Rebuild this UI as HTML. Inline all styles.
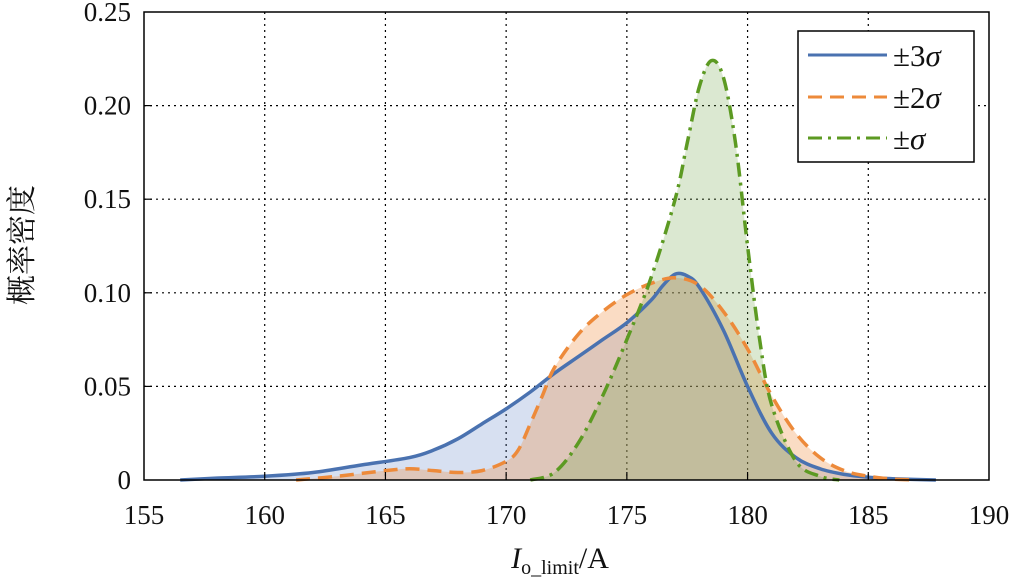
<!DOCTYPE html>
<html><head><meta charset="utf-8"><style>
body{margin:0;background:#fff}
svg text{font-family:"Liberation Serif","Noto Serif CJK SC",serif;fill:#111}
</style></head><body>
<svg width="1012" height="582" xmlns="http://www.w3.org/2000/svg">
<g id="grid"></g>
<g id="fills"></g>
<g id="lines"></g>
<rect x="144" y="12" width="845" height="468" fill="none" stroke="#000" stroke-width="1.5"/>
<g id="ticks"></g>
<text x="560" y="568" text-anchor="middle" font-size="30"><tspan font-style="italic">I</tspan><tspan font-size="20" dy="6">o_limit</tspan><tspan dy="-6">/A</tspan></text>
<text transform="translate(32,245) rotate(-90)" text-anchor="middle" font-size="30">概率密度</text>
<g>
<rect x="798" y="31" width="176" height="131" fill="#fff" stroke="#000" stroke-width="1.5"/>
<line x1="808" y1="55" x2="887" y2="55" stroke="#4a72b0" stroke-width="3"/>
<text x="893" y="66" font-size="31">±3<tspan font-style="italic">σ</tspan></text>
<line x1="808" y1="97" x2="887" y2="97" stroke="#ed8a3a" stroke-width="3" stroke-dasharray="14,8"/>
<text x="893" y="108" font-size="31">±2<tspan font-style="italic">σ</tspan></text>
<line x1="808" y1="138" x2="887" y2="138" stroke="#5c9a22" stroke-width="3" stroke-dasharray="14,6,3,6"/>
<text x="893" y="149" font-size="31">±<tspan font-style="italic">σ</tspan></text>
</g>
</svg>
<script>
const xTicks=[155,160,165,170,175,180,185,190];
const yTicks=[0,0.05,0.10,0.15,0.20,0.25];
const yTickLabels=["0","0.05","0.10","0.15","0.20","0.25"];
const x3=[156.5,158,160,162,164,166,167,168,169,170,171,172,173,174,175,176,176.5,177,177.5,178,179,180,181,182,183,184,185,186,187.8];
const y3=[0,0.001,0.002,0.004,0.008,0.012,0.016,0.022,0.030,0.038,0.047,0.057,0.066,0.075,0.084,0.096,0.104,0.110,0.109,0.103,0.080,0.050,0.025,0.012,0.006,0.003,0.0015,0.0007,0];
const x2=[161.3,163,165,166,167,168,169,170,170.5,171,171.5,172,173,174,175,176,177,178,179,180,181,182,183,184,185,186,187];
const y2=[0,0.002,0.005,0.006,0.005,0.004,0.005,0.010,0.016,0.030,0.045,0.060,0.078,0.090,0.099,0.105,0.108,0.104,0.090,0.070,0.045,0.025,0.012,0.005,0.002,0.0005,0];
const x1=[171,172,173,174,175,176,177,177.5,178,178.5,179,179.5,180,180.5,181,182,183,183.8];
const y1=[0,0.004,0.020,0.045,0.075,0.108,0.150,0.180,0.210,0.224,0.215,0.180,0.125,0.075,0.040,0.010,0.002,0];
const NS="http://www.w3.org/2000/svg";
const X=v=>144+(v-155)*845/35, Y=v=>480-v*468/0.25;
function mk(t,a,p){const e=document.createElementNS(NS,t);for(const k in a)e.setAttribute(k,a[k]);p.appendChild(e);return e;}
function path(xs,ys){const P=xs.map((x,i)=>[X(x),Y(ys[i])]);let d="M"+P[0][0]+","+P[0][1];
for(let i=0;i<P.length-1;i++){const p0=P[Math.max(0,i-1)],p1=P[i],p2=P[i+1],p3=P[Math.min(P.length-1,i+2)];
d+=" C"+(p1[0]+(p2[0]-p0[0])/6)+","+(p1[1]+(p2[1]-p0[1])/6)+" "+(p2[0]-(p3[0]-p1[0])/6)+","+(p2[1]-(p3[1]-p1[1])/6)+" "+p2[0]+","+p2[1];}return d;}
const g=document.getElementById('grid'),tk=document.getElementById('ticks'),fl=document.getElementById('fills'),ln=document.getElementById('lines');
xTicks.forEach(v=>{
 if(v>155&&v<190){const l=mk('line',{x1:X(v),x2:X(v),y1:12,y2:480,stroke:'#000','stroke-width':1.2,'stroke-dasharray':'2,4'},g);
 
 
 const t=mk('line',{x1:X(v),x2:X(v),y1:480,y2:472,stroke:'#000','stroke-width':1.2},tk);
 
 }
 const tx=mk('text',{x:X(v),y:524,'text-anchor':'middle','font-size':27},tk);tx.textContent=v;
 
 
});
yTicks.forEach((v,i)=>{
 if(i>0&&i<yTicks.length-1){const l=mk('line',{x1:144,x2:989,y1:Y(v),y2:Y(v),stroke:'#000','stroke-width':1.2,'stroke-dasharray':'2,4'},g);
 
 
 const t=mk('line',{x1:144,x2:152,y1:Y(v),y2:Y(v),stroke:'#000','stroke-width':1.2},tk);
 
 }
 const tx=mk('text',{x:131,y:Y(v)+9,'text-anchor':'end','font-size':27},tk);tx.textContent=yTickLabels[i];
 
 
});
const S=[[x3,y3,'#4a72b0','rgba(74,114,190,0.22)','none','series-3sigma'],[x2,y2,'#ed8a3a','rgba(240,140,60,0.30)','14,8','series-2sigma'],[x1,y1,'#5c9a22','rgba(110,165,70,0.25)','14,6,3,6','series-1sigma']];
S.forEach(s=>{const d=path(s[0],s[1]);
 const f=mk('path',{d:d+" L"+X(s[0][s[0].length-1])+",480 L"+X(s[0][0])+",480 Z",fill:s[3],stroke:'none'},fl);
 
 
 const l=mk('path',{d:d,fill:'none',stroke:s[2],'stroke-width':3.5,'stroke-dasharray':s[4]},ln);
 
 
});
</script>
</body></html>
